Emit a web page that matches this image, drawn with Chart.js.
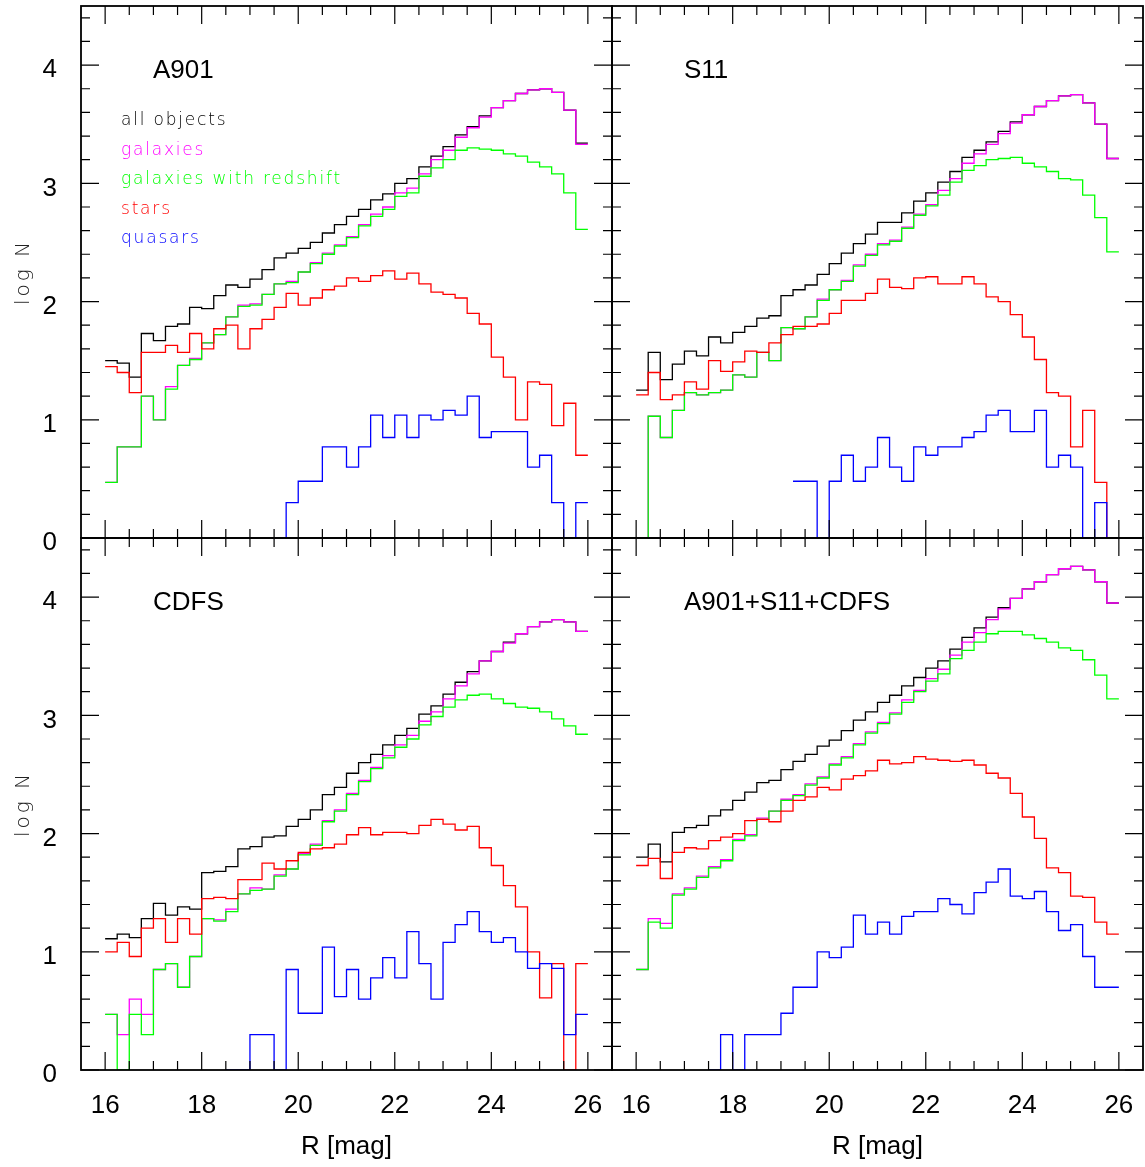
<!DOCTYPE html>
<html>
<head>
<meta charset="utf-8">
<script src="https://cdn.jsdelivr.net/npm/chart.js@4.4.1/dist/chart.umd.min.js"></script>
<style>
  body { margin: 0; background: #fff; }
  #wrap { position: relative; width: 1145px; height: 1167px; }
  #wrap canvas { position: absolute; left: 0; top: 0; }
</style>
</head>
<body>
<div id="wrap">
  <canvas id="c1" width="1145" height="1167"></canvas>
  <canvas id="c2" width="1145" height="1167"></canvas>
  <canvas id="c3" width="1145" height="1167"></canvas>
  <canvas id="c4" width="1145" height="1167"></canvas>
</div>
<script>
// left edges of the R magnitude bins (0.25 mag wide)
var binStart = [16, 16.25, 16.5, 16.75, 17, 17.25, 17.5, 17.75, 18, 18.25,
                18.5, 18.75, 19, 19.25, 19.5, 19.75, 20, 20.25, 20.5, 20.75,
                21, 21.25, 21.5, 21.75, 22, 22.25, 22.5, 22.75, 23, 23.25,
                23.5, 23.75, 24, 24.25, 24.5, 24.75, 25, 25.25, 25.5, 25.75];
var binWidth = 0.25;

var xTickValues = [16, 18, 20, 22, 24, 26];
var xMinorValues = [16.5, 17, 17.5, 18.5, 19, 19.5, 20.5, 21, 21.5, 22.5, 23, 23.5, 24.5, 25, 25.5];
var yTickValues = [0, 1, 2, 3, 4];
var yMinorValues = [0.2, 0.4, 0.6, 0.8, 1.2, 1.4, 1.6, 1.8, 2.2, 2.4, 2.6, 2.8, 3.2, 3.4, 3.6, 3.8, 4.2, 4.4];

var legendLabels = ['all objects', 'galaxies', 'galaxies with redshift', 'stars', 'quasars'];
var seriesColors = ['#000000', '#ff00ff', '#00ff00', '#ff0000', '#0000ff'];

// log N per bin, null = nothing drawn
var a901All = [1.50,1.48,1.36,1.73,1.67,1.79,1.81,1.95,1.94,2.05,2.14,2.12,2.19,2.27,2.37,2.41,2.45,2.50,2.58,2.65,
               2.72,2.78,2.86,2.91,3.00,3.04,3.14,3.23,3.31,3.41,3.48,3.57,3.64,3.70,3.76,3.79,3.80,3.77,3.62,3.34];
var a901Gal = [0.47,0.77,0.77,1.20,1.00,1.28,1.46,1.52,1.65,1.72,1.87,1.97,1.98,2.06,2.15,2.17,2.25,2.33,2.41,2.48,
               2.55,2.65,2.74,2.80,2.92,2.96,3.08,3.20,3.28,3.39,3.47,3.56,3.64,3.70,3.76,3.79,3.80,3.77,3.62,3.33];
var a901GalZ = [0.47,0.77,0.77,1.20,1.00,1.26,1.46,1.51,1.65,1.72,1.87,1.96,1.97,2.06,2.15,2.16,2.25,2.32,2.40,2.47,
                2.54,2.64,2.72,2.78,2.89,2.92,3.06,3.13,3.20,3.28,3.30,3.29,3.28,3.25,3.23,3.18,3.14,3.08,2.92,2.61];
var a901Stars = [1.45,1.40,1.23,1.57,1.57,1.63,1.57,1.73,1.60,1.77,1.80,1.60,1.77,1.85,1.95,2.07,1.97,2.03,2.10,2.13,
                 2.20,2.17,2.22,2.26,2.19,2.24,2.15,2.08,2.06,2.03,1.90,1.81,1.53,1.36,1.00,1.32,1.30,0.95,1.14,0.70];
var a901Qso = [null,null,null,null,null,null,null,null,null,null,null,null,null,null,0,0.30,0.48,0.48,0.77,0.77,
               0.60,0.77,1.04,0.85,1.04,0.85,1.04,1.00,1.08,1.04,1.20,0.85,0.90,0.90,0.90,0.60,0.70,0.30,0,0.30];

var s11All = [1.25,1.57,1.34,1.47,1.58,1.54,1.70,1.65,1.74,1.79,1.86,1.88,2.05,2.10,2.14,2.23,2.32,2.41,2.49,2.57,
              2.67,2.67,2.75,2.85,2.92,3.01,3.10,3.22,3.28,3.35,3.44,3.52,3.58,3.65,3.70,3.74,3.75,3.68,3.50,3.21];
var s11Gal = [0,1.03,0.85,1.08,1.23,1.21,1.23,1.25,1.38,1.36,1.57,1.50,1.78,1.77,1.87,2.02,2.10,2.18,2.31,2.40,
              2.49,2.52,2.63,2.74,2.82,2.94,3.04,3.17,3.25,3.33,3.42,3.51,3.58,3.65,3.70,3.74,3.75,3.68,3.50,3.21];
var s11GalZ = [0,1.03,0.85,1.08,1.23,1.21,1.23,1.25,1.38,1.36,1.57,1.50,1.78,1.77,1.87,2.01,2.10,2.17,2.30,2.39,
               2.48,2.51,2.62,2.73,2.81,2.90,3.01,3.11,3.15,3.20,3.21,3.22,3.17,3.14,3.10,3.04,3.03,2.90,2.71,2.42];
var s11Stars = [1.21,1.40,1.17,1.21,1.32,1.26,1.50,1.41,1.49,1.58,1.57,1.65,1.72,1.79,1.79,1.81,1.90,2.01,2.01,2.07,
                2.19,2.12,2.11,2.20,2.21,2.15,2.15,2.21,2.15,2.04,2.00,1.89,1.70,1.51,1.23,1.20,0.77,1.08,0.47,0];
var s11Qso = [null,null,null,null,null,null,null,null,null,null,null,null,null,0.48,0.48,0,0.48,0.70,0.48,0.60,
              0.85,0.60,0.48,0.77,0.70,0.77,0.77,0.85,0.90,1.04,1.08,0.90,0.90,1.08,0.60,0.70,0.60,0,0.30,0];

var cdfsAll = [1.11,1.15,1.12,1.28,1.41,1.31,1.38,1.36,1.67,1.68,1.72,1.87,1.89,1.97,1.98,2.06,2.12,2.20,2.33,2.39,
               2.51,2.60,2.67,2.75,2.83,2.89,3.01,3.08,3.18,3.28,3.37,3.46,3.54,3.62,3.69,3.75,3.79,3.81,3.79,3.71];
var cdfsGal = [0.47,0.30,0.60,0.47,0.85,0.90,0.70,0.96,1.28,1.27,1.36,1.49,1.54,1.53,1.65,1.70,1.83,1.91,2.11,2.20,
               2.34,2.45,2.56,2.66,2.75,2.83,2.95,3.03,3.14,3.25,3.35,3.46,3.54,3.61,3.69,3.75,3.79,3.81,3.79,3.71];
var cdfsGalZ = [0.47,0,0.47,0.30,0.85,0.90,0.70,0.96,1.28,1.26,1.34,1.49,1.52,1.53,1.64,1.70,1.82,1.90,2.10,2.19,
                2.33,2.44,2.55,2.64,2.73,2.80,2.92,2.99,3.07,3.13,3.17,3.18,3.14,3.10,3.07,3.06,3.03,2.97,2.91,2.84];
var cdfsStars = [1.00,1.08,0.96,1.20,1.28,1.08,1.28,1.15,1.45,1.46,1.45,1.61,1.61,1.75,1.70,1.77,1.84,1.87,1.88,1.91,
                 1.99,2.05,1.99,2.01,2.01,2.00,2.07,2.12,2.08,2.03,2.06,1.88,1.73,1.56,1.38,1.00,0.61,0.90,0,0.90];
var cdfsQso = [null,null,null,null,null,null,null,null,null,null,0,0,0.30,0.30,0,0.85,0.48,0.48,1.04,0.62,
               0.85,0.60,0.78,0.95,0.78,1.17,0.90,0.60,1.08,1.23,1.34,1.17,1.08,1.12,1.00,0.86,0.90,0.86,0.30,0.47];

var allAll = [1.80,1.91,1.76,2.01,2.05,2.07,2.15,2.20,2.28,2.35,2.43,2.45,2.54,2.61,2.67,2.74,2.79,2.87,2.96,3.03,
              3.11,3.17,3.25,3.32,3.40,3.46,3.56,3.66,3.74,3.83,3.91,3.99,4.07,4.13,4.19,4.24,4.26,4.23,4.13,3.95];
var allGal = [0.85,1.28,1.24,1.49,1.54,1.64,1.72,1.78,1.95,1.99,2.13,2.19,2.29,2.33,2.42,2.48,2.59,2.65,2.76,2.86,
              2.94,3.02,3.13,3.21,3.31,3.39,3.51,3.62,3.70,3.81,3.90,3.99,4.07,4.13,4.19,4.24,4.26,4.23,4.13,3.95];
var allGalZ = [0.85,1.25,1.20,1.48,1.53,1.63,1.71,1.77,1.94,1.98,2.12,2.19,2.28,2.32,2.41,2.47,2.58,2.64,2.75,2.85,
               2.93,3.01,3.11,3.20,3.29,3.35,3.48,3.55,3.62,3.69,3.71,3.71,3.68,3.65,3.62,3.57,3.55,3.47,3.34,3.14];
var allStars = [1.73,1.79,1.62,1.84,1.88,1.87,1.94,1.97,2.00,2.11,2.12,2.10,2.19,2.28,2.31,2.39,2.37,2.46,2.49,2.53,
                2.62,2.59,2.60,2.65,2.63,2.62,2.61,2.62,2.58,2.51,2.47,2.34,2.14,1.96,1.71,1.67,1.47,1.46,1.25,1.15];
var allQso = [null,null,null,null,null,null,0,0.30,0,0.30,0.30,0.30,0.48,0.70,0.70,1.00,0.95,1.04,1.31,1.15,
              1.25,1.15,1.30,1.34,1.34,1.45,1.40,1.32,1.50,1.59,1.70,1.47,1.45,1.51,1.34,1.18,1.23,0.96,0.70,0.70];

// histogram outline: each bin becomes a flat segment from its left to its right edge
function steps(vals) {
  var pts = [];
  for (var i = 0; i < vals.length; i++) {
    if (vals[i] === null) { pts.push({x: binStart[i], y: null}); continue; }
    pts.push({x: binStart[i], y: vals[i]});
    pts.push({x: binStart[i] + binWidth, y: vals[i]});
  }
  return pts;
}

var helv = "'Liberation Sans', Arial, Helvetica, sans-serif";
var thin = "'DejaVu Sans', sans-serif";

function noPad(s) {
  s.paddingTop = 0; s.paddingBottom = 0; s.paddingLeft = 0; s.paddingRight = 0;
}

var frameTicks = {
  id: 'frameTicks',
  afterDraw: function(chart, args, opts) {
    var ctx = chart.ctx, a = chart.chartArea;
    var xs = chart.scales.x, ys = chart.scales.y;
    ctx.save();
    ctx.strokeStyle = '#000';
    ctx.lineWidth = 1.2;
    ctx.beginPath();
    function xt(v, len) {
      var p = xs.getPixelForValue(v);
      ctx.moveTo(p, a.bottom); ctx.lineTo(p, a.bottom - len);
      ctx.moveTo(p, a.top); ctx.lineTo(p, a.top + len);
    }
    function yt(v, len) {
      var p = ys.getPixelForValue(v);
      ctx.moveTo(a.left, p); ctx.lineTo(a.left + len, p);
      ctx.moveTo(a.right, p); ctx.lineTo(a.right - len, p);
    }
    xTickValues.forEach(function(v) { xt(v, 18); });
    xMinorValues.forEach(function(v) { xt(v, 9); });
    yTickValues.forEach(function(v) { yt(v, 18); });
    yMinorValues.forEach(function(v) { yt(v, 9); });
    ctx.stroke();
    ctx.lineWidth = 1.8;
    ctx.strokeRect(a.left, a.top, a.right - a.left, a.bottom - a.top);

    ctx.fillStyle = '#000';
    ctx.font = '26px ' + helv;
    ctx.textBaseline = 'alphabetic';
    ctx.fillText(opts.name, a.left + 72, a.top + 72);

    if (opts.yTitle) {
      ctx.save();
      ctx.font = '300 20px ' + thin;
      ctx.letterSpacing = '3px';
      ctx.fillStyle = '#222';
      ctx.textAlign = 'center';
      ctx.textBaseline = 'middle';
      ctx.translate(24, (a.top + a.bottom) / 2);
      ctx.rotate(-Math.PI / 2);
      ctx.fillText('log N', 0, 0);
      ctx.restore();
    }

    if (opts.legend) {
      ctx.font = '300 17px ' + thin;
      ctx.letterSpacing = '1.8px';
      legendLabels.forEach(function(t, i) {
        ctx.fillStyle = seriesColors[i];
        ctx.fillText(t, a.left + 40, a.top + 119 + 29.5 * i);
      });
    }
    ctx.restore();
  }
};

function makePanel(id, name, series, box, showY, showX, legend) {
  var dsets = [];
  // quasars first so that they end up drawn on top
  for (var k = series.length - 1; k >= 0; k--) {
    dsets.push({
      label: legendLabels[k],
      data: steps(series[k]),
      borderColor: seriesColors[k],
      borderWidth: 1.3,
      pointRadius: 0,
      fill: false,
      tension: 0,
      spanGaps: false
    });
  }
  new Chart(document.getElementById(id).getContext('2d'), {
    type: 'line',
    data: { datasets: dsets },
    options: {
      responsive: false,
      animation: false,
      devicePixelRatio: 1,
      layout: { padding: { left: 0, right: 1145 - box.right, top: box.top, bottom: 0 } },
      plugins: { legend: { display: false }, tooltip: { enabled: false },
                 frameTicks: { name: name, legend: legend, yTitle: showY } },
      scales: {
        x: {
          type: 'linear', min: 15.5, max: 26.5,
          grid: { display: false }, border: { display: false },
          afterBuildTicks: function(s) { s.ticks = xTickValues.map(function(v) { return {value: v}; }); },
          afterFit: function(s) { s.height = 1167 - box.bottom; noPad(s); },
          ticks: { display: showX, padding: 12, color: '#000', font: { family: helv, size: 26 },
                   autoSkip: false, maxRotation: 0 },
          title: { display: showX, text: 'R [mag]', color: '#000', font: { family: helv, size: 26 },
                   padding: { bottom: 5 } }
        },
        y: {
          type: 'linear', min: 0, max: 4.5,
          grid: { display: false }, border: { display: false },
          afterBuildTicks: function(s) { s.ticks = yTickValues.map(function(v) { return {value: v}; }); },
          afterFit: function(s) { s.width = box.left; noPad(s); },
          ticks: { display: showY, padding: 16, labelOffset: 5, color: '#000', font: { family: helv, size: 26 } }
        }
      }
    },
    plugins: [frameTicks]
  });
}

makePanel('c1', 'A901', [a901All, a901Gal, a901GalZ, a901Stars, a901Qso],
          { left: 81, right: 612, top: 6, bottom: 538 }, true, false, true);
makePanel('c2', 'S11', [s11All, s11Gal, s11GalZ, s11Stars, s11Qso],
          { left: 612, right: 1143, top: 6, bottom: 538 }, false, false, false);
makePanel('c3', 'CDFS', [cdfsAll, cdfsGal, cdfsGalZ, cdfsStars, cdfsQso],
          { left: 81, right: 612, top: 538, bottom: 1070 }, true, true, false);
makePanel('c4', 'A901+S11+CDFS', [allAll, allGal, allGalZ, allStars, allQso],
          { left: 612, right: 1143, top: 538, bottom: 1070 }, false, true, false);
</script>
</body>
</html>
